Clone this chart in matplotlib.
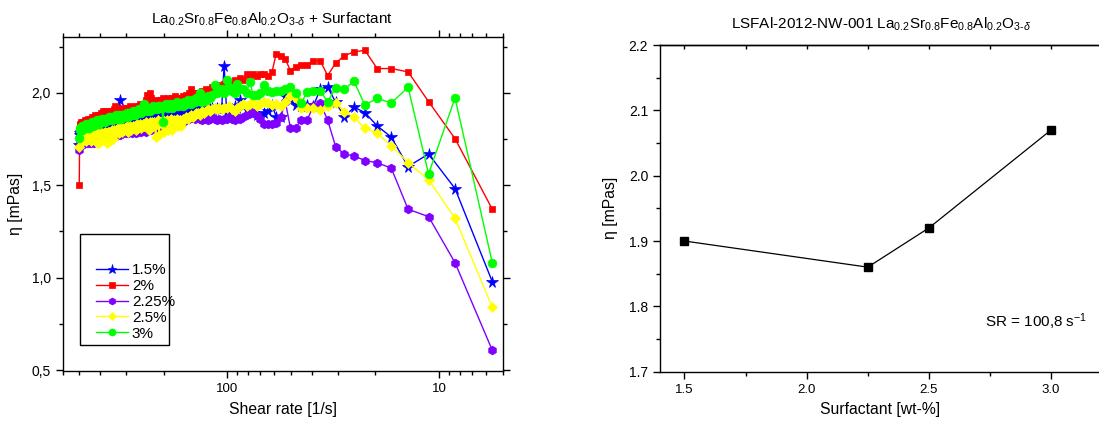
import matplotlib
matplotlib.use("Agg")
import matplotlib.pyplot as plt
from matplotlib.ticker import MultipleLocator, FuncFormatter, LogLocator, NullFormatter
from matplotlib.patches import Rectangle

plt.rcParams['font.family'] = ['Liberation Sans', 'DejaVu Sans']
plt.rcParams['mathtext.fontset'] = 'custom'
plt.rcParams['mathtext.rm'] = 'Liberation Sans'
plt.rcParams['mathtext.it'] = 'Liberation Sans:italic'
plt.rcParams['mathtext.bf'] = 'Liberation Sans:bold'

# ---- flow curves: shear-rate ramp (1/s), viscosity (mPas) per surfactant level ----
shear_rate = [
    501.2, 498.4, 495.6, 492.8, 490.0, 487.2, 484.4, 481.6, 478.8, 476.0,
    473.2, 470.4, 467.6, 464.8, 462.0, 459.2, 456.4, 453.6, 450.8, 448.0,
    445.2, 442.4, 439.6, 436.8, 434.0, 431.2, 428.4, 425.6, 422.8, 420.0,
    417.2, 414.4, 411.6, 408.8, 406.0, 403.2, 400.4, 397.6, 394.8, 392.0,
    389.2, 386.4, 383.6, 380.8, 378.0, 375.2, 372.4, 369.6, 366.8, 364.0,
    361.2, 358.4, 355.6, 352.8, 350.0, 347.2, 344.4, 341.6, 338.8, 336.0,
    333.2, 330.4, 327.6, 324.8, 322.0, 319.2, 316.4, 313.6, 310.8, 308.0,
    305.2, 302.4, 299.6, 296.8, 294.0, 291.2, 288.4, 285.6, 282.8, 280.0,
    277.2, 274.4, 271.6, 268.8, 266.0, 263.2, 260.4, 257.6, 254.8, 252.0,
    249.2, 246.4, 243.6, 240.8, 238.0, 235.2, 232.4, 229.6, 226.8, 224.0,
    221.2, 218.4, 215.6, 212.8, 210.0, 207.2, 204.4, 201.6, 198.8, 196.0,
    193.2, 190.4, 187.6, 184.8, 182.0, 179.2, 176.4, 173.6, 170.8, 168.0,
    165.2, 162.4, 159.6, 156.8, 154.0, 151.2, 148.4, 145.6, 142.8, 140.0,
    137.2, 134.4, 131.6, 128.8, 126.0, 123.2, 120.4, 117.6, 114.8, 112.0,
    109.2, 106.4, 103.6, 100.8, 98.0, 95.2, 92.4, 89.6, 86.8, 84.0,
    81.2, 78.4, 75.6, 72.8, 70.0, 67.2, 64.4, 61.6, 58.8, 56.0,
    53.2, 50.4, 47.6, 44.8, 42.0, 39.2, 36.4, 33.6, 30.8, 28.0,
    25.2, 22.4, 19.6, 16.8, 14.0, 11.2, 8.4, 5.6,
]

eta_1p5 = [
    1.72, 1.77, 1.78, 1.77, 1.79, 1.78, 1.77, 1.79, 1.78, 1.77,
    1.79, 1.78, 1.80, 1.79, 1.78, 1.80, 1.79, 1.78, 1.80, 1.79,
    1.80, 1.79, 1.81, 1.80, 1.79, 1.81, 1.80, 1.81, 1.79, 1.81,
    1.80, 1.81, 1.80, 1.82, 1.81, 1.80, 1.82, 1.81, 1.82, 1.81,
    1.82, 1.81, 1.83, 1.82, 1.81, 1.83, 1.82, 1.83, 1.82, 1.84,
    1.82, 1.83, 1.84, 1.83, 1.82, 1.84, 1.83, 1.84, 1.83, 1.85,
    1.84, 1.83, 1.85, 1.84, 1.96, 1.84, 1.85, 1.84, 1.86, 1.85,
    1.85, 1.84, 1.86, 1.85, 1.84, 1.86, 1.85, 1.86, 1.85, 1.87,
    1.86, 1.85, 1.87, 1.86, 1.85, 1.87, 1.86, 1.87, 1.86, 1.88,
    1.87, 1.86, 1.88, 1.87, 1.86, 1.88, 1.87, 1.88, 1.87, 1.89,
    1.87, 1.88, 1.87, 1.89, 1.88, 1.87, 1.89, 1.88, 1.89, 1.88,
    1.89, 1.88, 1.90, 1.89, 1.88, 1.90, 1.89, 1.90, 1.89, 1.91,
    1.89, 1.90, 1.89, 1.91, 1.90, 1.89, 1.91, 1.90, 1.91, 1.90,
    1.91, 1.90, 1.92, 1.91, 1.90, 1.92, 1.91, 1.92, 1.91, 1.92,
    1.91, 1.92, 2.146, 1.90, 1.92, 1.91, 1.93, 1.92, 1.962, 1.93,
    1.911, 1.90, 1.89, 1.88, 1.868, 1.89, 1.90, 1.934, 1.871, 1.871,
    1.980, 1.965, 1.934, 1.930, 1.933, 1.930, 2.019, 2.030, 1.950, 1.870,
    1.922, 1.893, 1.821, 1.760, 1.601, 1.669, 1.482, 0.978,
]

eta_2 = [
    1.50, 1.82, 1.83, 1.82, 1.84, 1.83, 1.82, 1.84, 1.83, 1.84,
    1.83, 1.85, 1.84, 1.83, 1.85, 1.84, 1.86, 1.84, 1.85, 1.85,
    1.86, 1.84, 1.86, 1.85, 1.87, 1.86, 1.85, 1.87, 1.86, 1.88,
    1.86, 1.87, 1.86, 1.88, 1.87, 1.86, 1.88, 1.87, 1.89, 1.87,
    1.88, 1.90, 1.87, 1.88, 1.90, 1.88, 1.87, 1.89, 1.88, 1.90,
    1.89, 1.88, 1.90, 1.89, 1.88, 1.90, 1.89, 1.91, 1.93, 1.89,
    1.90, 1.89, 1.91, 1.90, 1.89, 1.91, 1.90, 1.92, 1.90, 1.91,
    1.90, 1.92, 1.91, 1.90, 1.92, 1.91, 1.93, 1.91, 1.92, 1.90,
    1.92, 1.91, 1.93, 1.92, 1.91, 1.93, 1.92, 1.94, 1.92, 1.93,
    1.93, 1.92, 1.96, 1.99, 1.93, 1.94, 2.00, 1.97, 1.94, 1.93,
    1.95, 1.94, 1.96, 1.95, 1.94, 1.96, 1.95, 1.97, 1.95, 1.96,
    1.95, 1.97, 1.96, 1.95, 1.97, 1.96, 1.98, 1.96, 1.97, 1.96,
    1.97, 1.98, 1.97, 1.99, 1.98, 2.00, 2.02, 1.99, 1.98, 2.00,
    2.00, 1.99, 2.01, 2.00, 2.02, 2.01, 2.00, 2.03, 2.02, 2.03,
    2.04, 2.03, 2.05, 2.06, 2.05, 2.06, 2.07, 2.06, 2.08, 2.07,
    2.10, 2.09, 2.10, 2.09, 2.10, 2.10, 2.09, 2.111, 2.210, 2.201,
    2.182, 2.120, 2.142, 2.151, 2.151, 2.173, 2.173, 2.093, 2.160, 2.201,
    2.221, 2.230, 2.131, 2.131, 2.113, 1.952, 1.752, 1.370,
]

eta_2p25 = [
    1.691, 1.74, 1.73, 1.75, 1.74, 1.72, 1.74, 1.75, 1.73, 1.74,
    1.75, 1.73, 1.74, 1.75, 1.73, 1.74, 1.76, 1.74, 1.73, 1.75,
    1.74, 1.73, 1.75, 1.74, 1.76, 1.74, 1.75, 1.73, 1.75, 1.76,
    1.75, 1.74, 1.76, 1.75, 1.77, 1.75, 1.74, 1.76, 1.75, 1.77,
    1.76, 1.75, 1.77, 1.76, 1.75, 1.77, 1.76, 1.78, 1.76, 1.77,
    1.77, 1.76, 1.78, 1.77, 1.76, 1.78, 1.77, 1.79, 1.77, 1.78,
    1.78, 1.77, 1.79, 1.78, 1.77, 1.79, 1.78, 1.80, 1.78, 1.79,
    1.79, 1.78, 1.80, 1.79, 1.78, 1.80, 1.79, 1.80, 1.78, 1.80,
    1.79, 1.80, 1.78, 1.80, 1.81, 1.79, 1.80, 1.81, 1.79, 1.81,
    1.80, 1.81, 1.79, 1.81, 1.82, 1.80, 1.81, 1.80, 1.82, 1.81,
    1.82, 1.81, 1.83, 1.82, 1.81, 1.83, 1.82, 1.84, 1.82, 1.83,
    1.83, 1.82, 1.84, 1.83, 1.85, 1.84, 1.83, 1.85, 1.84, 1.86,
    1.85, 1.84, 1.86, 1.85, 1.87, 1.86, 1.88, 1.87, 1.86, 1.88,
    1.87, 1.86, 1.85, 1.87, 1.86, 1.85, 1.86, 1.87, 1.86, 1.85,
    1.86, 1.85, 1.86, 1.86, 1.87, 1.86, 1.85, 1.87, 1.86, 1.87,
    1.88, 1.90, 1.89, 1.88, 1.86, 1.83, 1.83, 1.830, 1.835, 1.868,
    1.950, 1.812, 1.812, 1.850, 1.850, 1.931, 1.944, 1.853, 1.709, 1.668,
    1.659, 1.633, 1.622, 1.592, 1.370, 1.330, 1.081, 0.607,
]

eta_2p5 = [
    1.706, 1.75, 1.76, 1.74, 1.76, 1.75, 1.77, 1.76, 1.74, 1.76,
    1.75, 1.77, 1.76, 1.74, 1.76, 1.77, 1.75, 1.76, 1.77, 1.75,
    1.76, 1.74, 1.77, 1.76, 1.75, 1.77, 1.76, 1.78, 1.76, 1.75,
    1.77, 1.73, 1.76, 1.78, 1.77, 1.73, 1.76, 1.78, 1.77, 1.76,
    1.78, 1.77, 1.76, 1.78, 1.79, 1.77, 1.73, 1.78, 1.79, 1.77,
    1.79, 1.74, 1.78, 1.80, 1.79, 1.75, 1.79, 1.80, 1.78, 1.80,
    1.79, 1.81, 1.80, 1.78, 1.80, 1.81, 1.79, 1.80, 1.81, 1.80,
    1.81, 1.80, 1.82, 1.81, 1.79, 1.81, 1.82, 1.80, 1.81, 1.82,
    1.81, 1.82, 1.80, 1.82, 1.83, 1.81, 1.82, 1.83, 1.81, 1.82,
    1.83, 1.82, 1.84, 1.83, 1.82, 1.80, 1.84, 1.83, 1.84, 1.82,
    1.84, 1.76, 1.83, 1.85, 1.77, 1.84, 1.83, 1.85, 1.79, 1.84,
    1.85, 1.80, 1.84, 1.86, 1.80, 1.85, 1.84, 1.86, 1.82, 1.85,
    1.82, 1.86, 1.85, 1.87, 1.86, 1.87, 1.88, 1.87, 1.88, 1.89,
    1.89, 1.88, 1.90, 1.89, 1.90, 1.91, 1.90, 1.91, 1.92, 1.91,
    1.92, 1.91, 1.92, 1.92, 1.93, 1.91, 1.90, 1.92, 1.93, 1.94,
    1.93, 1.94, 1.944, 1.93, 1.94, 1.95, 1.944, 1.935, 1.938, 1.931,
    1.949, 1.980, 1.971, 1.917, 1.917, 1.917, 1.907, 1.931, 1.947, 1.898,
    1.868, 1.808, 1.781, 1.713, 1.622, 1.530, 1.321, 0.840,
]

eta_3 = [
    1.754, 1.80, 1.81, 1.80, 1.81, 1.82, 1.80, 1.81, 1.82, 1.81,
    1.82, 1.81, 1.82, 1.83, 1.81, 1.82, 1.83, 1.82, 1.81, 1.83,
    1.82, 1.83, 1.82, 1.84, 1.83, 1.82, 1.84, 1.83, 1.84, 1.83,
    1.84, 1.83, 1.85, 1.84, 1.83, 1.85, 1.84, 1.85, 1.84, 1.86,
    1.84, 1.85, 1.86, 1.85, 1.84, 1.86, 1.85, 1.86, 1.85, 1.87,
    1.85, 1.86, 1.87, 1.86, 1.85, 1.87, 1.86, 1.87, 1.86, 1.88,
    1.86, 1.87, 1.86, 1.88, 1.87, 1.86, 1.88, 1.87, 1.88, 1.87,
    1.88, 1.87, 1.89, 1.88, 1.87, 1.89, 1.88, 1.89, 1.88, 1.90,
    1.89, 1.88, 1.90, 1.89, 1.90, 1.89, 1.91, 1.90, 1.89, 1.91,
    1.90, 1.94, 1.91, 1.90, 1.92, 1.91, 1.90, 1.92, 1.91, 1.93,
    1.91, 1.92, 1.91, 1.93, 1.92, 1.93, 1.92, 1.84, 1.93, 1.94,
    1.93, 1.92, 1.94, 1.93, 1.92, 1.94, 1.93, 1.95, 1.93, 1.94,
    1.94, 1.93, 1.95, 1.94, 1.96, 1.95, 1.94, 1.96, 1.95, 1.97,
    1.96, 2.00, 1.95, 1.97, 1.96, 1.98, 1.97, 1.99, 2.04, 2.00,
    2.01, 2.02, 2.00, 2.07, 2.03, 2.01, 2.00, 2.05, 2.02, 2.02,
    2.00, 2.06, 1.99, 1.99, 2.00, 2.04, 2.01, 2.003, 2.007, 2.010,
    2.021, 2.032, 2.001, 1.944, 2.003, 2.010, 2.010, 1.951, 2.028, 2.021,
    2.061, 1.933, 1.971, 1.944, 2.030, 1.561, 1.972, 1.081,
]

series_labels = ["1.5%", "2%", "2.25%", "2.5%", "3%"]

# ---- viscosity at SR = 100.8 1/s versus surfactant content ----
surfactant_wt = [1.5, 2.25, 2.5, 3.0]
eta_at_sr = [1.90, 1.86, 1.92, 2.07]

formula = r"La$_{0.2}$Sr$_{0.8}$Fe$_{0.8}$Al$_{0.2}$O$_{3\text{-}\delta}$"

fig = plt.figure(figsize=(10.99, 4.25), dpi=100)
W, H = 1099.0, 425.0

def px_axes(left, top, right, bottom):
    return fig.add_axes([left / W, 1 - bottom / H, (right - left) / W, (bottom - top) / H])

# ---------------- left panel ----------------
ax1 = px_axes(62.7, 37.3, 502.7, 371.0)

styles = [
    dict(color="#0000FF", marker="*", ms=8.5),
    dict(color="#FF0000", marker="s", ms=5.0),
    dict(color="#8000FF", marker="h", ms=6.3),
    dict(color="#FFFF00", marker="D", ms=5.0),
    dict(color="#00FF00", marker="o", ms=6.3),
]
all_eta = [eta_1p5, eta_2, eta_2p25, eta_2p5, eta_3]
handles = []
for eta, lab, st in zip(all_eta, series_labels, styles):
    h, = ax1.plot(shear_rate, eta, color=st["color"], lw=1.0, marker=st["marker"],
                  ms=st["ms"], mec=st["color"], mfc=st["color"], mew=0.5, label=lab)
    handles.append(h)

ax1.set_xscale("log")
ax1.set_xlim(600, 5)
ax1.set_ylim(0.495, 2.30)
ax1.xaxis.set_major_locator(LogLocator(base=10))
ax1.xaxis.set_minor_locator(LogLocator(base=10, subs=range(2, 10)))
ax1.xaxis.set_major_formatter(FuncFormatter(lambda v, p: f"{v:g}"))
ax1.xaxis.set_minor_formatter(NullFormatter())
ax1.yaxis.set_major_locator(MultipleLocator(0.5))
ax1.yaxis.set_minor_locator(MultipleLocator(0.25))
ax1.yaxis.set_major_formatter(FuncFormatter(lambda v, p: f"{v:.1f}".replace(".", ",")))
ax1.tick_params(which="both", direction="out", top=True, right=True, width=1)
ax1.tick_params(axis="x", labelsize=9.5)
ax1.tick_params(axis="y", labelsize=10)
ax1.tick_params(which="major", length=5)
ax1.tick_params(which="minor", length=3)
for s in ax1.spines.values():
    s.set_linewidth(1.0)
ax1.set_xlabel("Shear rate [1/s]", fontsize=11.3, labelpad=5)
ax1.set_ylabel("η [mPas]", fontsize=11.3, labelpad=6)
fig.text(271.7 / W, 1 - 24 / H, formula + " + Surfactant", ha="center", va="baseline", fontsize=11)

# legend with a plain rectangular frame
ax1.add_patch(Rectangle((0.040, 0.0788), 0.2023, 0.3317, transform=ax1.transAxes,
                        fill=False, ec="black", lw=1.0, zorder=5))
leg = ax1.legend(handles=handles, loc="center left", bbox_to_anchor=(0.0757, 0.2068),
                 frameon=False, fontsize=11, borderpad=0, borderaxespad=0,
                 handlelength=2.1, handletextpad=0.25, labelspacing=0.12,
                 markerscale=0.8)

# ---------------- right panel ----------------
ax2 = px_axes(660.0, 45.0, 1100.0, 371.7)
ax2.plot(surfactant_wt, eta_at_sr, color="black", lw=0.9, marker="s", ms=6, mfc="black", mec="black")
ax2.set_xlim(1.4, 3.2)
ax2.set_ylim(1.7, 2.2)
ax2.xaxis.set_major_locator(MultipleLocator(0.5))
ax2.xaxis.set_minor_locator(MultipleLocator(0.25))
ax2.yaxis.set_major_locator(MultipleLocator(0.1))
ax2.yaxis.set_minor_locator(MultipleLocator(0.05))
ax2.xaxis.set_major_formatter(FuncFormatter(lambda v, p: f"{v:.1f}"))
ax2.yaxis.set_major_formatter(FuncFormatter(lambda v, p: f"{v:.1f}"))
ax2.tick_params(which="both", direction="out", top=False, width=1)
ax2.tick_params(axis="x", labelsize=9.5)
ax2.tick_params(axis="y", labelsize=10)
ax2.tick_params(which="major", length=5)
ax2.tick_params(which="minor", length=3)
for s in ax2.spines.values():
    s.set_linewidth(1.0)

# inward ticks along the top edge, no labels
top_axis = ax2.secondary_xaxis("top")
top_axis.xaxis.set_major_locator(MultipleLocator(0.25))
top_axis.tick_params(direction="in", length=3, width=1, labeltop=False)
top_axis.spines["top"].set_linewidth(1.0)

ax2.set_xlabel("Surfactant [wt-%]", fontsize=11.3, labelpad=5)
ax2.set_ylabel("η [mPas]", fontsize=11.3, labelpad=8)
ax2.text(2.73, 1.769, "SR = 100,8 s$^{-1}$", fontsize=11, ha="left", va="baseline")
fig.text(881 / W, 1 - 29 / H, "LSFAl-2012-NW-001 " + formula, ha="center", va="baseline", fontsize=11)

fig.savefig("out.png", dpi=100)
